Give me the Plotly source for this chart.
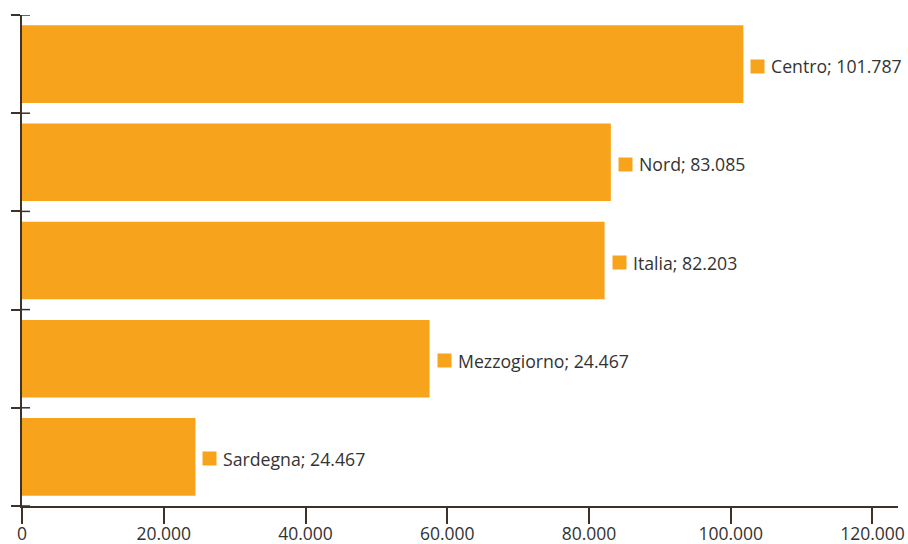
import plotly.graph_objects as go

categories = ["Centro", "Nord", "Italia", "Mezzogiorno", "Sardegna"]
bar_values = [101787, 83085, 82203, 57500, 24467]
label_values = [101787, 83085, 82203, 24467, 24467]
x_ticks = [0, 20000, 40000, 60000, 80000, 100000, 120000]

BAR = "#F8A31C"
AXIS = "#3d3128"
TEXT = "#333333"
FONT = "Open Sans"


def it_num(v):
    return f"{v:,}".replace(",", ".")


fig = go.Figure()
fig.add_trace(go.Bar(
    x=bar_values, y=categories, orientation="h",
    marker=dict(color=BAR, line=dict(width=0)),
    hoverinfo="skip",
))

annotations = []
for cat, bv, lv in zip(categories, bar_values, label_values):
    annotations.append(dict(
        x=bv, y=cat, xref="x", yref="y", text=" ", showarrow=False,
        width=13, height=13, bgcolor=BAR, borderpad=0,
        xanchor="left", yanchor="middle", xshift=7, yshift=-2,
        font=dict(size=4),
    ))
    annotations.append(dict(
        x=bv, y=cat, xref="x", yref="y", text=f"{cat}; {it_num(lv)}",
        showarrow=False, xanchor="left", yanchor="middle",
        xshift=26, yshift=-2,
        font=dict(family=FONT, size=17.7, color=TEXT),
    ))

shapes = []
for i in range(len(categories) + 1):
    shapes.append(dict(
        type="line", xref="paper", yref="y",
        x0=0, x1=8 / 876, y0=i - 0.5, y1=i - 0.5,
        line=dict(color=AXIS, width=1.5),
    ))

fig.update_layout(
    width=908, height=544,
    margin=dict(l=22, r=10, t=15, b=38, autoexpand=False),
    paper_bgcolor="white", plot_bgcolor="white",
    showlegend=False, bargap=0.21,
    font=dict(family=FONT, size=18, color=TEXT),
    annotations=annotations, shapes=shapes,
    xaxis=dict(
        range=[0, 123600], tickvals=x_ticks,
        ticktext=[it_num(v) for v in x_ticks],
        showgrid=False, zeroline=False, automargin=False,
        showline=True, linecolor=AXIS, linewidth=1.5,
        ticks="outside", ticklen=16, tickwidth=1.5, tickcolor=AXIS,
        ticklabelstandoff=-5,
        tickfont=dict(family=FONT, size=17.5, color=TEXT),
    ),
    yaxis=dict(
        categoryorder="array", categoryarray=categories[::-1],
        range=[-0.5, len(categories) - 0.5], automargin=False,
        showticklabels=False, showgrid=False, zeroline=False,
        showline=True, linecolor=AXIS, linewidth=1.5,
        ticks="outside", tickson="boundaries", ticklen=9,
        tickwidth=1.5, tickcolor=AXIS,
    ),
)

fig.write_html(
    "out.html",
    config={"displayModeBar": False},
    post_script="document.body.style.margin='0';document.body.style.overflow='hidden';",
)
